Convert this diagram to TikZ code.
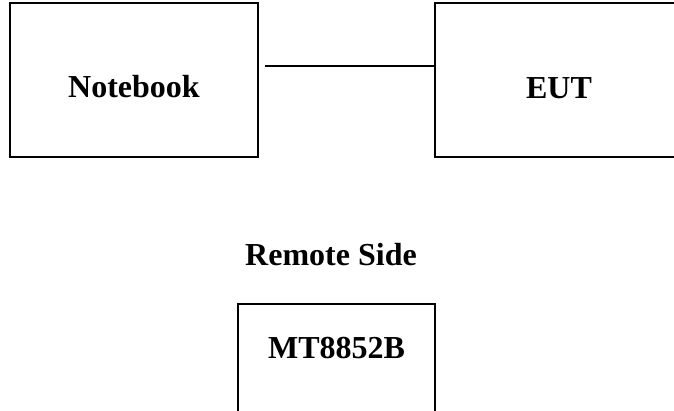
\documentclass[tikz,border=0pt]{standalone}
\usepackage{fontspec}
\setmainfont{Liberation Serif}
\usetikzlibrary{positioning}

\tikzset{
  unit/.style={draw, line width=1.6pt, inner sep=0pt},
  lbl/.style={font=\bfseries\fontsize{32}{38}\selectfont, anchor=base, inner sep=0pt}
}

\begin{document}
\begin{tikzpicture}[x=1pt,y=1pt]
   \clip (0,0) rectangle (674,410);

   % boxes
   \node[unit, minimum width=248pt, minimum height=154pt] (nb)  at (134,330) {};
   \node[unit, minimum width=248pt, minimum height=154pt] (eut) at (559,330) {};
   \node[unit, minimum width=197pt, minimum height=130pt] (mt)  at (336.5,41) {};

   % texts
   \node[lbl] (nbt)  at (134,312)   {Notebook};
   \node[lbl] (eutt) at (559,311)   {EUT};
   \node[lbl] (rs)   at (331,145)   {Remote Side};
   \node[lbl] (mtt)  at (336.5,52)  {MT8852B};

   \draw[line width=1.6pt, shorten <=6pt]
     ([yshift=14pt]nb.east) -- ([yshift=14pt]eut.west);
\end{tikzpicture}
\end{document}
